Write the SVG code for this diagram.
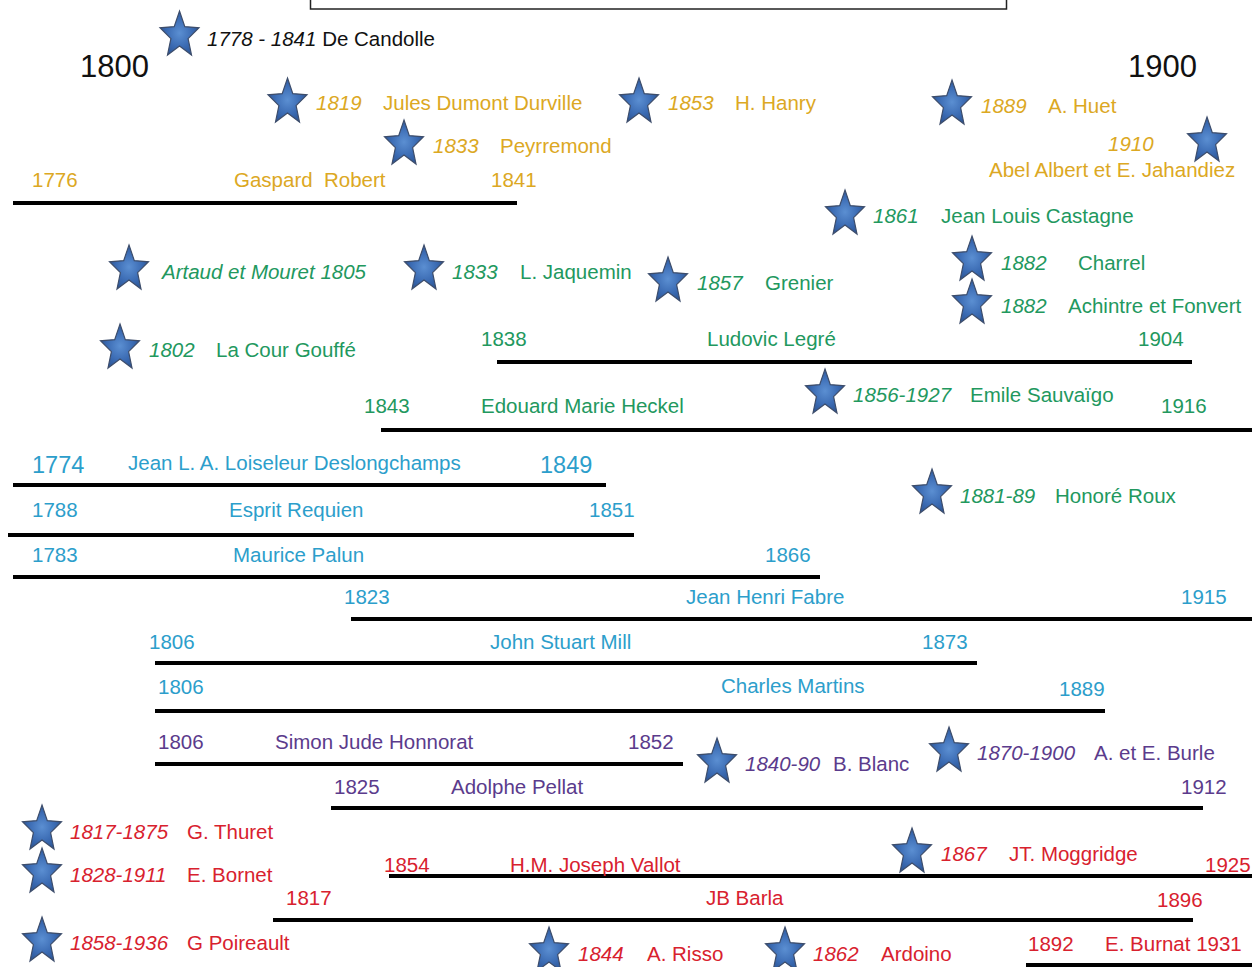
<svg xmlns="http://www.w3.org/2000/svg" xmlns:xlink="http://www.w3.org/1999/xlink" width="1252" height="967" viewBox="0 0 1252 967">
<defs>
<radialGradient id="sg" cx="50%" cy="50%" r="55%">
<stop offset="0" stop-color="#5b8fd2"/>
<stop offset="0.6" stop-color="#3b6bb3"/>
<stop offset="1" stop-color="#2b5494"/>
</radialGradient>
<path id="star" d="M0,-22 L5.3,-6.4 L19.5,-5.2 L8.6,5.6 L12,22 L0,13 L-12,22 L-8.6,5.6 L-19.5,-5.2 L-5.3,-6.4 Z" fill="url(#sg)" stroke="#3d4d6b" stroke-width="1.2" stroke-linejoin="miter"/>
<style>
text{font-family:"Liberation Sans",Arial,sans-serif;font-size:20.5px}
.i{font-style:italic}
.k{fill:#111}
.g{fill:#DCA823}
.gr{fill:#22985E}
.b{fill:#2C9ECB}
.p{fill:#5B3B8C}
.r{fill:#D8212E}
.big{font-size:31px}
.mid{font-size:23.5px}
.bar{stroke:#000;stroke-width:4;fill:none}
</style>
</defs>
<rect width="1252" height="967" fill="#fff"/>
<rect id="title-box" x="310.5" y="-12" width="696" height="21" fill="#fff" stroke="#222" stroke-width="1.5"/>
<g id="axis">
<text x="80" y="77" class="k big">1800</text>
<text x="1128" y="77" class="k big">1900</text>
</g>
<g id="connectors"></g>

<g id="decandolle"><use xlink:href="#star" x="179.5" y="33"/><text x="207" y="46" class="k"><tspan class="i">1778 - 1841</tspan> De Candolle</text></g>

<g id="durville"><use xlink:href="#star" x="287.5" y="100"/><text x="316" y="110" class="g i">1819</text><text x="383" y="110" class="g">Jules Dumont Durville</text></g>
<g id="hanry"><use xlink:href="#star" x="639" y="100"/><text x="668" y="110" class="g i">1853</text><text x="735" y="110" class="g">H. Hanry</text></g>
<g id="huet"><use xlink:href="#star" x="952" y="102"/><text x="981" y="113" class="g i">1889</text><text x="1048" y="113" class="g">A. Huet</text></g>
<g id="peyrremond"><use xlink:href="#star" x="404" y="142"/><text x="433" y="153" class="g i">1833</text><text x="500" y="153" class="g">Peyrremond</text></g>
<g id="jahandiez"><use xlink:href="#star" x="1207" y="139"/><text x="1108" y="151" class="g i">1910</text><text x="989" y="177" class="g">Abel Albert et E. Jahandiez</text></g>
<g id="robert"><line x1="13" y1="203" x2="517" y2="203" class="bar"/><text x="32" y="187" class="g">1776</text><text x="234" y="187" class="g">Gaspard&#160; Robert</text><text x="491" y="187" class="g">1841</text></g>

<g id="castagne"><use xlink:href="#star" x="845" y="212"/><text x="873" y="223" class="gr i">1861</text><text x="941" y="223" class="gr">Jean Louis Castagne</text></g>
<g id="artaud"><use xlink:href="#star" x="129" y="267"/><text x="162" y="279" class="gr i">Artaud et Mouret 1805</text></g>
<g id="jaquemin"><use xlink:href="#star" x="424" y="267"/><text x="452" y="279" class="gr i">1833</text><text x="520" y="279" class="gr">L. Jaquemin</text></g>
<g id="grenier"><use xlink:href="#star" x="668" y="279"/><text x="697" y="290" class="gr i">1857</text><text x="765" y="290" class="gr">Grenier</text></g>
<g id="charrel"><use xlink:href="#star" x="972" y="258"/><text x="1001" y="270" class="gr i">1882</text><text x="1078" y="270" class="gr">Charrel</text></g>
<g id="achintre"><use xlink:href="#star" x="972" y="301"/><text x="1001" y="313" class="gr i">1882</text><text x="1068" y="313" class="gr">Achintre et Fonvert</text></g>
<g id="gouffe"><use xlink:href="#star" x="120" y="346"/><text x="149" y="357" class="gr i">1802</text><text x="216" y="357" class="gr">La Cour Gouffé</text></g>
<g id="legre"><line x1="497" y1="362" x2="1192" y2="362" class="bar"/><text x="481" y="346" class="gr">1838</text><text x="707" y="346" class="gr">Ludovic Legré</text><text x="1138" y="346" class="gr">1904</text></g>
<g id="sauvaigo"><use xlink:href="#star" x="825" y="391"/><text x="853" y="402" class="gr i">1856-1927</text><text x="970" y="402" class="gr">Emile Sauvaïgo</text></g>
<g id="heckel"><line x1="381" y1="430" x2="1252" y2="430" class="bar"/><text x="364" y="413" class="gr">1843</text><text x="481" y="413" class="gr">Edouard Marie Heckel</text><text x="1161" y="413" class="gr">1916</text></g>
<g id="roux"><use xlink:href="#star" x="932" y="491"/><text x="960" y="503" class="gr i">1881-89</text><text x="1055" y="503" class="gr">Honoré Roux</text></g>

<g id="loiseleur"><line x1="13" y1="485" x2="606" y2="485" class="bar"/><text x="32" y="473" class="b mid">1774</text><text x="128" y="470" class="b">Jean L. A. Loiseleur Deslongchamps</text><text x="540" y="473" class="b mid">1849</text></g>
<g id="requien"><line x1="8" y1="535" x2="634" y2="535" class="bar"/><text x="32" y="517" class="b">1788</text><text x="229" y="517" class="b">Esprit Requien</text><text x="589" y="517" class="b">1851</text></g>
<g id="palun"><line x1="13" y1="577" x2="820" y2="577" class="bar"/><text x="32" y="562" class="b">1783</text><text x="233" y="562" class="b">Maurice Palun</text><text x="765" y="562" class="b">1866</text></g>
<g id="fabre"><line x1="351" y1="619" x2="1252" y2="619" class="bar"/><text x="344" y="604" class="b">1823</text><text x="686" y="604" class="b">Jean Henri Fabre</text><text x="1181" y="604" class="b">1915</text></g>
<g id="mill"><line x1="155" y1="663" x2="977" y2="663" class="bar"/><text x="149" y="649" class="b">1806</text><text x="490" y="649" class="b">John Stuart Mill</text><text x="922" y="649" class="b">1873</text></g>
<g id="martins"><line x1="155" y1="711" x2="1105" y2="711" class="bar"/><text x="158" y="694" class="b">1806</text><text x="721" y="693" class="b">Charles Martins</text><text x="1059" y="696" class="b">1889</text></g>

<g id="honnorat"><line x1="155" y1="764" x2="683" y2="764" class="bar"/><text x="158" y="749" class="p">1806</text><text x="275" y="749" class="p">Simon Jude Honnorat</text><text x="628" y="749" class="p">1852</text></g>
<g id="blanc"><use xlink:href="#star" x="717" y="760"/><text x="745" y="771" class="p i">1840-90</text><text x="833" y="771" class="p">B. Blanc</text></g>
<g id="burle"><use xlink:href="#star" x="949" y="749"/><text x="977" y="760" class="p i">1870-1900</text><text x="1094" y="760" class="p">A. et E. Burle</text></g>
<g id="pellat"><line x1="331" y1="808" x2="1203" y2="808" class="bar"/><text x="334" y="794" class="p">1825</text><text x="451" y="794" class="p">Adolphe Pellat</text><text x="1181" y="794" class="p">1912</text></g>

<g id="thuret"><use xlink:href="#star" x="42" y="827"/><text x="70" y="839" class="r i">1817-1875</text><text x="187" y="839" class="r">G. Thuret</text></g>
<g id="bornet"><use xlink:href="#star" x="42" y="870"/><text x="70" y="882" class="r i">1828-1911</text><text x="187" y="882" class="r">E. Bornet</text></g>
<g id="poireault"><use xlink:href="#star" x="42" y="939"/><text x="70" y="950" class="r i">1858-1936</text><text x="187" y="950" class="r">G Poireault</text></g>
<g id="moggridge"><use xlink:href="#star" x="912" y="850"/><text x="941" y="861" class="r i">1867</text><text x="1009" y="861" class="r">JT. Moggridge</text></g>
<g id="vallot"><line x1="389" y1="876" x2="1252" y2="876" class="bar"/><text x="384" y="872" class="r">1854</text><text x="510" y="872" class="r">H.M. Joseph Vallot</text><text x="1205" y="872" class="r">1925</text></g>
<g id="barla"><line x1="273" y1="920" x2="1193" y2="920" class="bar"/><text x="286" y="905" class="r">1817</text><text x="706" y="905" class="r">JB Barla</text><text x="1157" y="907" class="r">1896</text></g>
<g id="risso"><use xlink:href="#star" x="549" y="949"/><text x="578" y="961" class="r i">1844</text><text x="647" y="961" class="r">A. Risso</text></g>
<g id="ardoino"><use xlink:href="#star" x="785" y="949"/><text x="813" y="961" class="r i">1862</text><text x="881" y="961" class="r">Ardoino</text></g>
<g id="burnat"><line x1="1026" y1="965" x2="1252" y2="965" class="bar"/><text x="1028" y="951" class="r">1892</text><text x="1105" y="951" class="r">E. Burnat 1931</text></g>
</svg>
